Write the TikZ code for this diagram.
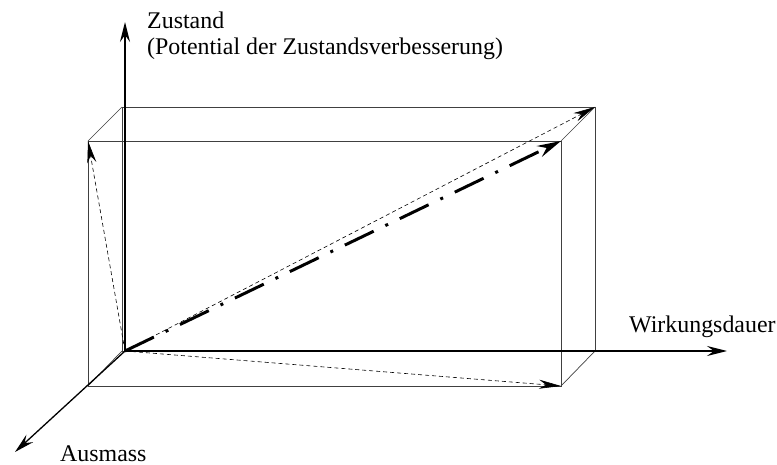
\documentclass[tikz,border=0pt]{standalone}
\usepackage{fontspec}
\setmainfont{Liberation Serif}
\usetikzlibrary{arrows.meta}
\tikzset{
  axis/.style={line width=1.6pt,-{Stealth[length=20pt,width=10pt,inset=7pt]}},
  boxline/.style={line width=0.7pt,black!75},
  vecdash/.style={line width=0.6pt,dash pattern=on 4pt off 3pt,-{Stealth[length=22pt,width=9pt,inset=7pt]}},
  mainvec/.style={line width=3pt,dash pattern=on 32pt off 13pt on 3pt off 13pt,-{Stealth[length=24pt,width=12pt,inset=8pt]}},
  lbl/.style={font=\fontsize{23.9}{26}\selectfont,inner sep=0pt,anchor=base west}
}
\begin{document}
\begin{tikzpicture}[x=1pt,y=-1pt]
\useasboundingbox (0,0) rectangle (777,465);
% corners
\coordinate (O) at (125,351);
\coordinate (btl) at (122,107);
\coordinate (btr) at (595,107);
\coordinate (bbr) at (595,351);
\coordinate (bbl) at (122,351);
\coordinate (ftl) at (88,141);
\coordinate (ftr) at (561,141);
\coordinate (fbr) at (561,386);
\coordinate (fbl) at (88,386);
\coordinate (zEnd) at (125,22);
\coordinate (wEnd) at (727,351);
\coordinate (aEnd) at (15,452);
% box
\draw[boxline] (btl) rectangle (bbr);
\draw[boxline] (ftl) rectangle (fbr);
\draw[boxline] (btl) -- (ftl);
\draw[boxline] (btr) -- (ftr);
\draw[boxline] (bbr) -- (fbr);
\draw[boxline] (bbl) -- (fbl);
% vectors
\draw[vecdash] (O) -- (ftl);
\draw[vecdash] (O) -- (btr);
\draw[vecdash] (O) -- (fbr);
\draw[mainvec] (O) -- (ftr);
% axes
\draw[axis] (O) -- (zEnd);
\draw[axis] (O) -- (wEnd);
\draw[axis,line width=1.3pt] (O) -- (aEnd);
% labels
\node[lbl] (zlbl) at (147,29) {Zustand};
\node[lbl] (plbl) at (147,55) {(Potential der Zustandsverbesserung)};
\node[lbl] (wlbl) at (629,333) {Wirkungsdauer};
\node[lbl] (albl) at (60,461) {Ausmass};
\end{tikzpicture}
\end{document}
